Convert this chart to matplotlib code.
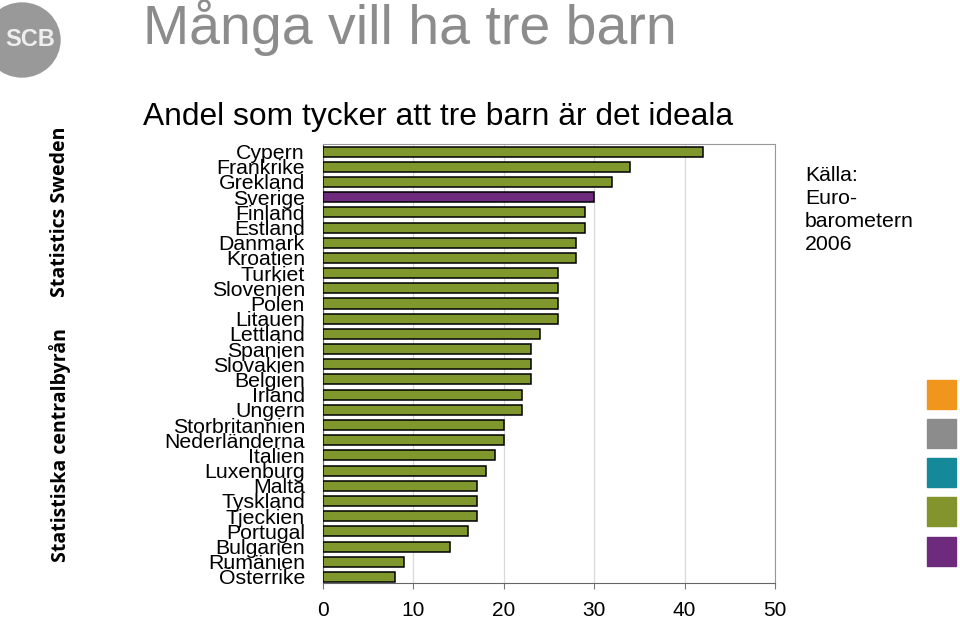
import numpy as np
import matplotlib.pyplot as plt
from matplotlib.patches import Ellipse, Rectangle

plt.rcParams['font.family'] = ['Liberation Sans', 'DejaVu Sans']

countries = ['Cypern', 'Frankrike', 'Grekland', 'Sverige', 'Finland', 'Estland',
             'Danmark', 'Kroatien', 'Turkiet', 'Slovenien', 'Polen', 'Litauen',
             'Lettland', 'Spanien', 'Slovakien', 'Belgien', 'Irland', 'Ungern',
             'Storbritannien', 'Nederländerna', 'Italien', 'Luxenburg', 'Malta',
             'Tyskland', 'Tjeckien', 'Portugal', 'Bulgarien', 'Rumänien', 'Österrike']
values = [42, 34, 32, 30, 29, 29, 28, 28, 26, 26, 26, 26, 24, 23, 23, 23, 22, 22,
          20, 20, 19, 18, 17, 17, 17, 16, 14, 9, 8]
xticks = [0, 10, 20, 30, 40, 50]

olive = '#7f972c'
purple = '#6e2a7c'
colors = [purple if c == 'Sverige' else olive for c in countries]

fig = plt.figure(figsize=(9.6, 6.19), dpi=100)
ax = fig.add_axes([323/960, 1 - 583/619, 452/960, 439/619])

y = np.arange(len(countries))
ax.barh(y, values, height=0.66, color=colors, edgecolor='black', linewidth=1.1, zorder=3)
ax.set_ylim(len(countries) - 0.6, -0.5)
ax.set_xlim(0, 50)
ax.set_xticks(xticks)
ax.set_xticklabels([str(t) for t in xticks], fontsize=15)
ax.set_yticks(y)
# labels overlap each other in the original too
ax.set_yticklabels(countries, fontsize=15.3)
ax.tick_params(axis='y', length=0, pad=13)
ax.tick_params(axis='x', length=4, color='#777777', pad=9)
ax.grid(axis='x', color='#d9d9d9', linewidth=0.9, zorder=0)
for s in ['top', 'right']:
    ax.spines[s].set_color('#999999')
for s in ['left', 'bottom']:
    ax.spines[s].set_color('#666666')

# titles
fig.text(143/960, 1 - 28/619, 'Många vill ha tre barn', fontsize=40, color='#8c8c8c',
         va='center', ha='left')
fig.text(143/960, 1 - 117/619, 'Andel som tycker att tre barn är det ideala', fontsize=22.9,
         color='black', va='center', ha='left')

# source
fig.text(805/960, 1 - 166/619, 'Källa:\nEuro-\nbarometern\n2006', fontsize=15.3,
         va='top', ha='left', linespacing=1.27)

# logo and side texts
fig.patches.append(Ellipse((22/960, 1 - 40/619), 76/960, 74/619, color='#999999',
                           transform=fig.transFigure, figure=fig))
fig.text(30/960, 1 - 40/619, 'SCB', fontsize=17, fontweight='bold', color='#eeeeee',
         ha='center', va='center')
fig.text(60/960, 1 - 212/619, 'Statistics Sweden', fontsize=14, fontweight='bold',
         family='Open Sans', rotation=90, ha='center', va='center')
fig.text(60/960, 1 - 445/619, 'Statistiska centralbyrån', fontsize=14, fontweight='bold',
         family='Open Sans', rotation=90, ha='center', va='center')

# colour squares
sq_colors = ['#f0961c', '#8c8c8c', '#14899a', '#83942c', '#6e2a7c']
sq_tops = [380, 419, 458, 497, 537]
for c, t in zip(sq_colors, sq_tops):
    fig.patches.append(Rectangle((927/960, 1 - (t + 29)/619), 29/960, 29/619, color=c,
                                 transform=fig.transFigure, figure=fig))

plt.savefig('out.png', dpi=100)
